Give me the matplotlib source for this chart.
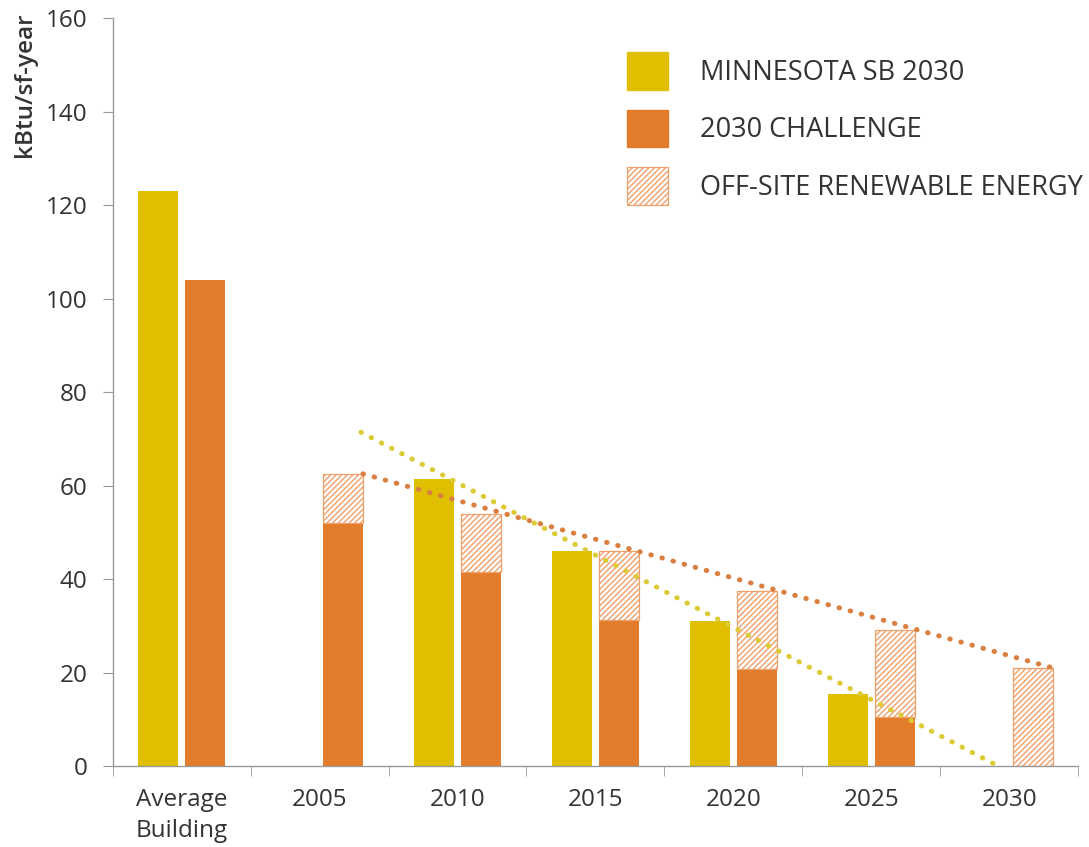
import matplotlib.pyplot as plt
from matplotlib.patches import Patch
import numpy as np

plt.rcParams['font.family'] = ['Open Sans', 'DejaVu Sans']

categories = ["Average\nBuilding", "2005", "2010", "2015", "2020", "2025", "2030"]
minnesota = [123, 0, 61.5, 46, 31, 15.4, 0]
challenge = [104, 52, 41.6, 31.2, 20.8, 10.4, 0]
offsite_top = [None, 62.5, 54, 46, 37.5, 29, 21]

# trend lines drawn over the bars: (x, y) endpoints in category units
mn_trend_x = [1.30, 5.92]
mn_trend_y = [71.4, 0]
ch_trend_x = [1.315, 6.315]
ch_trend_y = [62.5, 21]

yellow = '#E0BE00'
orange = '#E27B2A'
hatch_edge = '#F0A06A'

fig = plt.figure(figsize=(10.89, 8.47), dpi=100)
ax = fig.add_axes([0.1035, 0.0956, 0.8865, 0.8831])

x = np.arange(len(categories))
w = 0.29
off = 0.17

for i in range(len(categories)):
    if minnesota[i] > 0:
        ax.bar(x[i] - off, minnesota[i], w, color=yellow, zorder=2)
    if challenge[i] > 0:
        ax.bar(x[i] + off, challenge[i], w, color=orange, zorder=2)
    if offsite_top[i] is not None:
        ax.bar(x[i] + off, offsite_top[i] - challenge[i], w, bottom=challenge[i],
               facecolor='white', edgecolor=hatch_edge, hatch='//////',
               linewidth=0.9, zorder=2)

ax.plot(mn_trend_x, mn_trend_y, color='#DCCB35', lw=3.6,
        linestyle=(0, (0.1, 2.2)), dash_capstyle='round', zorder=3)
ax.plot(ch_trend_x, ch_trend_y, color='#D98040', lw=3.6,
        linestyle=(0, (0.1, 2.2)), dash_capstyle='round', zorder=3)

ax.set_xlim(-0.5, len(categories) - 0.5)
ax.set_ylim(0, 160)
ax.set_yticks(np.arange(0, 161, 20))
ax.set_xticks(x)
ax.set_xticklabels(categories)
ax.set_xticks(np.arange(-0.5, len(categories)), minor=True)
ax.tick_params(axis='x', which='major', length=0, pad=16, labelsize=17.5, colors='#333333')
ax.tick_params(axis='x', which='minor', length=7, color='#999999', direction='out')
ax.tick_params(axis='y', length=7, color='#999999', pad=11, labelsize=17.5, colors='#333333')
for lbl in ax.get_xticklabels():
    lbl.set_linespacing(1.4)
    lbl.set_verticalalignment('top')

for s in ['top', 'right']:
    ax.spines[s].set_visible(False)
for s in ['left', 'bottom']:
    ax.spines[s].set_color('#999999')
    ax.spines[s].set_linewidth(1.0)

fig.text(0.023, 0.985, 'kBtu/sf-year', rotation=90, ha='center', va='top',
         fontsize=17.5, fontweight='semibold', color='#333333')

handles = [
    Patch(facecolor=yellow, edgecolor=yellow),
    Patch(facecolor=orange, edgecolor=orange),
    Patch(facecolor='white', edgecolor=hatch_edge, hatch='//////', linewidth=0.9),
]
labels = ['MINNESOTA SB 2030', '2030 CHALLENGE', 'OFF-SITE RENEWABLE ENERGY']
fig.legend(handles, labels, loc='upper left', bbox_to_anchor=(0.5758, 0.9386),
           frameon=False, fontsize=19.5, handlelength=1.52, handleheight=1.76,
           labelspacing=0.74, handletextpad=1.19, borderpad=0, borderaxespad=0,
           labelcolor='#333333')

fig.savefig('out.png', dpi=100)
